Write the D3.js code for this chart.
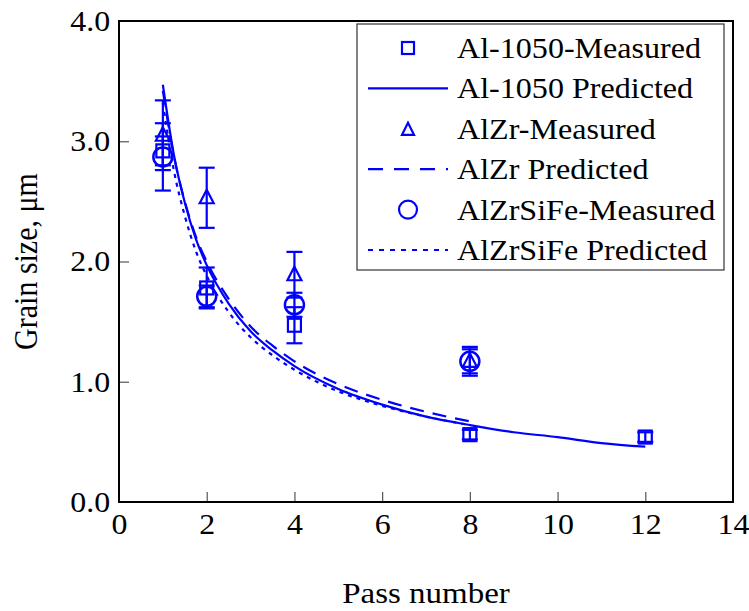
<!DOCTYPE html>
<html>
<head>
<meta charset="utf-8">
<script src="https://cdn.jsdelivr.net/npm/d3@7"></script>
<style>
  body { margin: 0; background: #fff; }
  svg text { font-family: "Liberation Serif", "Times New Roman", serif; fill: #000; }
</style>
</head>
<body>
<div class="container"></div>
<script>
let width = 749
let height = 611
let margin = { left: 119, right: 16, top: 21, bottom: 109 }
let plotW = width - margin.left - margin.right
let plotH = height - margin.top - margin.bottom
const blue = '#0000ff'
const stretch = 1.1

// measured points
const passes = [1, 2, 4, 8, 12]
const al1050Measured = [2.92, 1.78, 1.47, 0.56, 0.54]
const al1050Err = [0.12, 0.17, 0.15, 0.04, 0.04]
const alloyPasses = [1, 2, 4, 8]
const alZrMeasured = [3.05, 2.53, 1.89, 1.17]
const alZrErr = [0.29, 0.25, 0.19, 0.12]
const alZrSiFeMeasured = [2.87, 1.71, 1.64, 1.17]
const alZrSiFeErr = [0.28, 0.09, 0.10, 0.10]

// predicted curves
const predPasses = [1, 1.25, 1.5, 1.75, 2, 2.5, 3, 3.5, 4, 5, 6, 7, 8, 9, 10, 11, 12]
const al1050Pred = [3.47, 2.89, 2.49, 2.19, 1.97, 1.65, 1.42, 1.26, 1.13, 0.94, 0.81, 0.71, 0.64, 0.58, 0.54, 0.49, 0.46]
const alZrPred = [3.42, 2.88, 2.50, 2.21, 2.00, 1.69, 1.46, 1.30, 1.17, 0.98, 0.85, 0.75, 0.67]
const alZrSiFePred = [3.32, 2.76, 2.38, 2.09, 1.88, 1.58, 1.37, 1.22, 1.10, 0.92, 0.80, 0.71, 0.64]

const xTicks = [0, 2, 4, 6, 8, 10, 12, 14]
const yTicks = [0, 1, 2, 3, 4]
const legendLabels = ['Al-1050-Measured', 'Al-1050 Predicted', 'AlZr-Measured', 'AlZr Predicted', 'AlZrSiFe-Measured', 'AlZrSiFe Predicted']

let svg = d3.select('.container')
    .append('svg')
    .attr('width', width)
    .attr('height', height)

let xScale = d3.scaleLinear().domain([0, 14]).range([margin.left, margin.left + plotW])
let yScale = d3.scaleLinear().domain([0, 4]).range([margin.top + plotH, margin.top])

// axes, ticks pointing inward
let xAxis = d3.axisBottom(xScale)
    .tickValues(xTicks)
    .tickSize(-10)
    .tickPadding(11)
    .tickFormat(d3.format('d'))

let yAxis = d3.axisLeft(yScale)
    .tickValues(yTicks)
    .tickSize(-10)
    .tickPadding(8)
    .tickFormat(d3.format('.1f'))

let gx = svg.append('g')
    .attr('transform', `translate(0,${margin.top + plotH})`)
    .call(xAxis)
let gy = svg.append('g')
    .attr('transform', `translate(${margin.left},0)`)
    .call(yAxis)

for (let g of [gx, gy]) {
    g.select('.domain').remove()
    g.selectAll('line').attr('stroke', '#555').attr('stroke-width', 1.2)
    g.selectAll('text').attr('font-size', 29).attr('font-family', '"Liberation Serif", serif')
}
gx.selectAll('.tick').filter(d => d === 0 || d === 14).select('line').remove()
gy.selectAll('.tick').filter(d => d === 0 || d === 4).select('line').remove()
gx.selectAll('text').attr('transform', `scale(${stretch},1)`)
gy.selectAll('text').attr('transform', `scale(${stretch},1)`)

// frame
svg.append('rect')
    .attr('x', margin.left)
    .attr('y', margin.top)
    .attr('width', plotW)
    .attr('height', plotH)
    .attr('fill', 'none')
    .attr('stroke', '#000')
    .attr('stroke-width', 2)

// axis titles
svg.append('text')
    .attr('transform', `translate(${margin.left + plotW / 2},${height - 8}) scale(${stretch},1)`)
    .attr('text-anchor', 'middle')
    .attr('font-size', 30)
    .text('Pass number')

svg.append('text')
    .attr('transform', `translate(37,${margin.top + plotH / 2}) scale(${stretch},1) rotate(-90)`)
    .attr('text-anchor', 'middle')
    .attr('font-size', 30)
    .text('Grain size, μm')

// predicted lines
let line = d3.line()
    .x(d => xScale(d[0]))
    .y(d => yScale(d[1]))
    .curve(d3.curveMonotoneX)

const predSeries = [
    { vals: al1050Pred, dash: null },
    { vals: alZrPred, dash: '14,9' },
    { vals: alZrSiFePred, dash: '4,5' }
]
predSeries.forEach(s => {
    svg.append('path')
        .datum(s.vals.map((v, i) => [predPasses[i], v]))
        .attr('d', line)
        .attr('fill', 'none')
        .attr('stroke', blue)
        .attr('stroke-width', 2.2)
        .attr('stroke-dasharray', s.dash)
})

// markers
function drawMarker(g, type, cx, cy) {
    if (type === 'square') {
        g.append('rect').attr('x', cx - 6.5).attr('y', cy - 6.5).attr('width', 13).attr('height', 13)
            .attr('fill', 'none').attr('stroke', blue).attr('stroke-width', 2.2)
    } else if (type === 'triangle') {
        g.append('path').attr('d', `M${cx},${cy - 8}L${cx + 7},${cy + 5.5}L${cx - 7},${cy + 5.5}Z`)
            .attr('fill', 'none').attr('stroke', blue).attr('stroke-width', 2.2)
    } else {
        g.append('circle').attr('cx', cx).attr('cy', cy).attr('r', 9.5)
            .attr('fill', 'none').attr('stroke', blue).attr('stroke-width', 2.5)
    }
}

const measSeries = [
    { xs: passes, vals: al1050Measured, err: al1050Err, type: 'square' },
    { xs: alloyPasses, vals: alZrMeasured, err: alZrErr, type: 'triangle' },
    { xs: alloyPasses, vals: alZrSiFeMeasured, err: alZrSiFeErr, type: 'circle' }
]
measSeries.forEach(s => {
    let g = svg.append('g')
    s.vals.forEach((v, i) => {
        let cx = xScale(s.xs[i])
        let top = yScale(v + s.err[i])
        let bot = yScale(v - s.err[i])
        g.append('line').attr('x1', cx).attr('x2', cx).attr('y1', top).attr('y2', bot)
            .attr('stroke', blue).attr('stroke-width', 2.2)
        for (let y of [top, bot]) {
            g.append('line').attr('x1', cx - 8).attr('x2', cx + 8).attr('y1', y).attr('y2', y)
                .attr('stroke', blue).attr('stroke-width', 2.2)
        }
        drawMarker(g, s.type, cx, yScale(v))
    })
})

// legend
let lx = 357, ly = 24, lw = 367, lh = 246
let legend = svg.append('g')
legend.append('rect')
    .attr('x', lx).attr('y', ly).attr('width', lw).attr('height', lh)
    .attr('fill', '#fff').attr('stroke', '#333').attr('stroke-width', 1.2)

const legendKinds = ['square', 'solid', 'triangle', 'dash', 'circle', 'dot']
legendLabels.forEach((label, i) => {
    let cy = 48 + i * 40.4
    let kind = legendKinds[i]
    if (kind === 'solid' || kind === 'dash' || kind === 'dot') {
        legend.append('line').attr('x1', 368).attr('x2', 448).attr('y1', cy).attr('y2', cy)
            .attr('stroke', blue).attr('stroke-width', 2.2)
            .attr('stroke-dasharray', kind === 'dash' ? '15,11' : kind === 'dot' ? '5,6' : null)
    } else {
        let g = legend.append('g')
        if (kind === 'circle') {
            g.append('circle').attr('cx', 408).attr('cy', cy).attr('r', 9)
                .attr('fill', 'none').attr('stroke', blue).attr('stroke-width', 2.2)
        } else if (kind === 'square') {
            g.append('rect').attr('x', 402).attr('y', cy - 6).attr('width', 12).attr('height', 12)
                .attr('fill', 'none').attr('stroke', blue).attr('stroke-width', 2.2)
        } else {
            g.append('path').attr('d', `M408,${cy - 6}L414,${cy + 6}L402,${cy + 6}Z`)
                .attr('fill', 'none').attr('stroke', blue).attr('stroke-width', 2.2)
        }
    }
    legend.append('text')
        .attr('transform', `translate(457,${cy + 10}) scale(1.07,1)`)
        .attr('font-size', 30)
        .text(label)
})
</script>
</body>
</html>
